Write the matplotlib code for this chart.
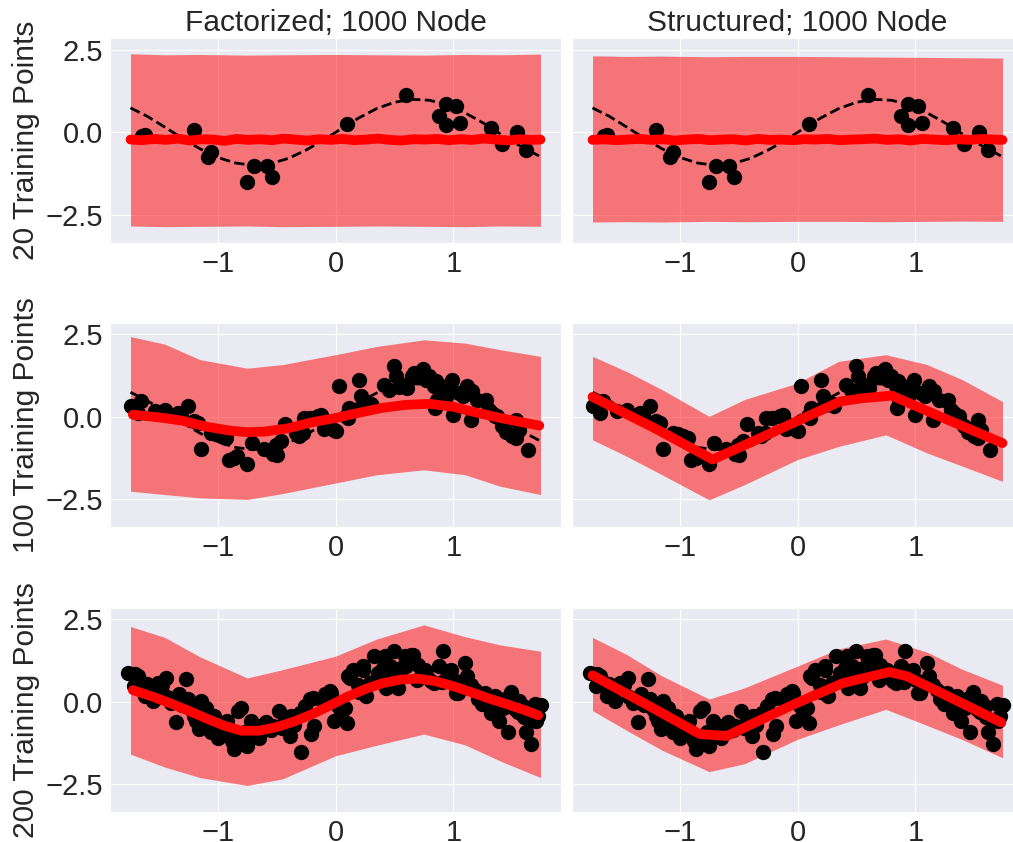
import numpy as np
import matplotlib.pyplot as plt
import seaborn as sns

sns.set_style("darkgrid")
plt.rcParams['font.family'] = ['Liberation Sans', 'DejaVu Sans']

# true function (dashed)
x_true = [-1.74, -1.6, -1.45, -1.3, -1.15, -1.0, -0.85, -0.7, -0.55, -0.4, -0.25, -0.1,
          0.05, 0.2, 0.35, 0.5, 0.65, 0.8, 0.95, 1.1, 1.25, 1.4, 1.55, 1.74]
y_true = [0.74, 0.49, 0.16, -0.18, -0.5, -0.76, -0.93, -1.0, -0.95, -0.79, -0.54, -0.23,
          0.11, 0.44, 0.72, 0.91, 1.0, 0.97, 0.83, 0.59, 0.29, -0.05, -0.38, -0.74]

# training points
x20 = [-1.62, -1.2, -1.085, -1.06, -0.755, -0.69, -0.58, -0.54, 0.10, 0.60,
       0.88, 0.94, 0.94, 1.02, 1.06, 1.32, 1.41, 1.54, 1.62, -1.64]
y20 = [-0.08, 0.07, -0.74, -0.61, -1.52, -1.01, -1.01, -1.37, 0.24, 1.13,
       0.50, 0.86, 0.22, 0.80, 0.29, 0.14, -0.36, 0.02, -0.53, -0.10]

x100 = [-1.74, -1.68, -1.65, -1.53, -1.34, -1.31, -1.25, -1.2, -1.17, -1.14, -1.06, -1.015,
        -0.97, -0.93, -0.90, -0.86, -0.84, -0.755, -0.71, -0.61, -0.53, -0.5, -0.506, -0.464,
        -0.427, -0.336, -0.31, -0.28, -0.266, -0.22, -0.15, -0.12, -0.1, -0.10, -0.01, 0.003,
        0.03, 0.09, 0.11, 0.116, 0.2, 0.215, 0.23, 0.314, 0.413, 0.45, 0.5, 0.51, 0.54, 0.61,
        0.65, 0.67, 0.695, 0.74, 0.766, 0.79, 0.837, 0.85, 0.845, 0.865, 0.91, 0.94, 0.98,
        0.99, 1.0, 1.05, 1.08, 1.12, 1.15, 1.16, 1.275, 1.30, 1.33, 1.35, 1.374, 1.416, 1.50,
        1.53, 1.53, 1.56, 1.63, -0.05, 0.6, 1.2, 1.45, -1.45, 0.3, 0.88, 1.1]
y100 = [0.31, 0.11, 0.47, 0.17, 0.11, 0.04, 0.31, -0.12, -0.19, -0.98, -0.5, -0.52,
        -0.6, -0.65, -1.30, -1.25, -1.18, -1.42, -0.81, -0.98, -1.12, -1.15, -0.85, -0.75,
        -0.22, -0.49, -0.6, -0.5, -0.04, -0.04, 0.01, 0.04, -0.19, -0.37, -0.39, -0.44,
        0.93, 0.01, -0.04, 0.26, 1.1, 0.62, 0.36, 0.33, 0.97, 0.82, 1.53, 1.22, 0.9, 0.87,
        1.24, 1.32, 1.27, 1.45, 1.12, 1.22, 0.92, 1.07, 0.26, 0.52, 0.82, 0.61, 0.82,
        1.1, 0.06, 0.72, 0.62, 0.92, -0.09, 0.77, 0.52, 0.21, 0.11, 0.01, 0.01, -0.29, -0.6,
        -0.65, -0.09, -0.39, -1.0, -0.3, 0.95, 0.5, -0.45, 0.2, 0.4, 0.95, 0.8]

x200 = [-1.76, -1.71, -1.68, -1.62, -1.58, -1.55, -1.51, -1.44, -1.40, -1.35, -1.33, -1.27,
        -1.25, -1.23, -1.20, -1.16, -1.14, -1.10, -1.09, -1.06, -1.03, -1.00, -0.96, -0.92,
        -0.86, -0.83, -0.82, -0.77, -0.75, -0.72, -0.67, -0.63, -0.59, -0.53, -0.48, -0.43,
        -0.39, -0.38, -0.29, -0.26, -0.22, -0.21, -0.18, -0.12, -0.09, -0.05, -0.01, 0.02,
        0.05, 0.10, 0.12, 0.15, 0.19, 0.23, 0.26, 0.29, 0.33, 0.36, 0.40, 0.42, 0.43, 0.46,
        0.49, 0.50, 0.53, 0.56, 0.59, 0.60, 0.66, 0.69, 0.73, 0.76, 0.81, 0.84, 0.88, 0.91,
        0.95, 1.01, 1.04, 1.10, 1.12, 1.15, 1.21, 1.24, 1.27, 1.32, 1.35, 1.37, 1.39, 1.44,
        1.46, 1.49, 1.52, 1.56, 1.59, 1.62, 1.65, 1.66, 1.69, 1.72,
        -1.7, -1.65, -1.6, -1.47, -1.43, -1.3, -1.18, -1.12, -1.05, -0.98, -0.9, -0.88,
        -0.8, -0.7, -0.65, -0.55, -0.45, -0.35, -0.3, -0.19, -0.04, 0.08, 0.11, 0.2, 0.23,
        0.32, 0.38, 0.48, 0.55, 0.64, 0.7, 0.78, 0.9, 0.98, 1.02, 1.08, 1.18, 1.3, 1.42,
        1.48, 1.55, 1.6, 1.7, 1.74]
y200 = [0.87, 0.47, 0.77, 0.17, 0.37, 0.02, 0.57, 0.72, -0.03, -0.63, 0.22, 0.69,
        0.07, -0.23, -0.43, -0.83, 0.02, -0.18, -0.58, -0.93, -0.43, -1.09, -0.68, -0.58,
        -1.44, -0.28, -1.14, -0.93, -1.34, -0.58, -0.73, -0.93, -0.63, -0.73, -0.28, -0.53,
        -1.04, -0.43, -1.52, -0.13, 0.07, -0.98, -0.73, 0.07, 0.22, 0.32, -0.58, -0.13,
        -0.33, -0.65, 0.72, 0.97, 0.52, 0.97, 0.17, 0.57, 1.40, 0.87, 1.02, 1.38, 0.42, 1.08,
        0.77, 1.55, 0.42, 1.02, 1.38, 1.08, 1.43, 0.67, 0.87, 0.97, 0.62, 0.57, 1.08, 1.53,
        0.92, 0.67, 0.27, 1.18, 0.77, 0.52, 0.07, -0.08, 0.27, -0.33, 0.17, -0.03, -0.58, 0.07,
        -0.93, 0.29, -0.23, 0.02, -0.13, -0.93, -0.58, -1.29, -0.08, -0.43,
        0.85, 0.6, 0.55, 0.5, 0.15, -0.1, -0.6, -0.75, -0.7, -0.85, -0.95, -1.2,
        -0.18, -1.0, -1.1, -0.85, -0.8, -0.7, -0.35, 0.12, 0.27, -0.2, 0.77, 0.3, 1.08,
        0.6, 0.7, 0.95, 0.75, 1.43, 1.1, 0.75, 0.6, 0.95, 0.27, 0.5, 0.35, 0.0, -0.2,
        0.05, -0.3, -0.45, -0.6, -0.1]

# predictive band (mean +/- 2 std), read at these x positions
x_band = [-1.74, -1.45, -1.15, -0.75, -0.45, 0.0, 0.35, 0.75, 1.1, 1.4, 1.74]
fac20_hi = [2.38, 2.35, 2.36, 2.34, 2.35, 2.36, 2.35, 2.34, 2.36, 2.35, 2.37]
fac20_lo = [-2.84, -2.86, -2.85, -2.84, -2.86, -2.85, -2.84, -2.85, -2.86, -2.84, -2.85]
str20_hi = [2.32, 2.30, 2.31, 2.29, 2.30, 2.30, 2.29, 2.28, 2.27, 2.26, 2.25]
str20_lo = [-2.72, -2.71, -2.72, -2.70, -2.71, -2.70, -2.70, -2.71, -2.70, -2.69, -2.70]
fac100_hi = [2.43, 2.20, 1.73, 1.47, 1.58, 1.88, 2.13, 2.33, 2.23, 2.03, 1.83]
fac100_lo = [-2.26, -2.36, -2.46, -2.51, -2.33, -2.01, -1.76, -1.61, -1.76, -2.11, -2.36]
str100_hi = [1.83, 1.37, 0.82, 0.01, 0.52, 1.02, 1.68, 1.88, 1.58, 1.12, 0.46]
str100_lo = [-0.70, -1.20, -1.76, -2.52, -2.06, -1.30, -0.90, -0.55, -1.10, -1.50, -1.96]
fac200_hi = [2.28, 1.95, 1.36, 0.72, 0.97, 1.38, 1.90, 2.33, 1.97, 1.72, 1.53]
fac200_lo = [-1.59, -1.98, -2.30, -2.54, -2.34, -1.64, -1.32, -0.98, -1.31, -1.80, -2.30]
str200_hi = [1.95, 1.43, 0.78, 0.08, 0.42, 1.08, 1.60, 1.90, 1.50, 0.98, 0.50]
str200_lo = [-0.27, -0.87, -1.47, -2.12, -1.88, -1.14, -0.70, -0.23, -0.72, -1.15, -1.70]

# predictive mean
xm20 = [-1.74, -1.64, -1.54, -1.44, -1.34, -1.24, -1.14, -1.04, -0.94, -0.84, -0.74, -0.64,
        -0.54, -0.44, -0.34, -0.24, -0.14, -0.04, 0.06, 0.16, 0.26, 0.36, 0.46, 0.56,
        0.66, 0.76, 0.86, 0.96, 1.06, 1.16, 1.26, 1.36, 1.46, 1.56, 1.66, 1.74]
fac20_mean = [-0.22, -0.24, -0.20, -0.23, -0.19, -0.25, -0.21, -0.22, -0.26, -0.20, -0.23, -0.21,
              -0.24, -0.19, -0.22, -0.25, -0.21, -0.23, -0.20, -0.24, -0.22, -0.19, -0.23, -0.25,
              -0.21, -0.22, -0.20, -0.24, -0.21, -0.23, -0.19, -0.22, -0.25, -0.21, -0.23, -0.22]
str20_mean = [-0.23, -0.21, -0.24, -0.22, -0.20, -0.23, -0.21, -0.25, -0.22, -0.20, -0.24, -0.22,
              -0.21, -0.25, -0.20, -0.23, -0.22, -0.24, -0.21, -0.22, -0.20, -0.24, -0.22, -0.21,
              -0.19, -0.23, -0.21, -0.25, -0.20, -0.22, -0.24, -0.21, -0.23, -0.20, -0.22, -0.23]
xm_fac100 = [-1.72, -1.5, -1.3, -1.1, -0.9, -0.75, -0.6, -0.4, -0.2, 0.0, 0.2, 0.4, 0.6,
             0.8, 1.0, 1.2, 1.4, 1.6, 1.73]
fac100_mean = [0.06, -0.02, -0.12, -0.30, -0.42, -0.47, -0.45, -0.35, -0.17, -0.04, 0.12, 0.27,
               0.36, 0.39, 0.30, 0.12, -0.04, -0.18, -0.27]
xm_str100 = [-1.74, -1.2, -0.72, -0.3, 0.0, 0.36, 0.55, 0.8, 1.2, 1.74]
str100_mean = [0.60, -0.37, -1.30, -0.62, -0.13, 0.46, 0.56, 0.64, 0.02, -0.80]
xm_fac200 = [-1.72, -1.55, -1.4, -1.25, -1.1, -0.95, -0.8, -0.65, -0.5, -0.35, -0.2, -0.05,
             0.1, 0.25, 0.4, 0.55, 0.7, 0.85, 1.0, 1.15, 1.3, 1.45, 1.6, 1.72]
fac200_mean = [0.35, 0.15, -0.05, -0.27, -0.50, -0.72, -0.88, -0.88, -0.77, -0.60, -0.38, -0.12,
               0.15, 0.38, 0.56, 0.67, 0.70, 0.62, 0.47, 0.29, 0.10, -0.07, -0.25, -0.41]
xm_str200 = [-1.74, -1.3, -0.83, -0.6, -0.3, 0.0, 0.39, 0.78, 0.93, 1.73]
str200_mean = [0.80, -0.05, -0.98, -1.04, -0.53, -0.03, 0.57, 0.90, 0.77, -0.63]

row_labels = ["20 Training Points", "100 Training Points", "200 Training Points"]
col_titles = ["Factorized; 1000 Node", "Structured; 1000 Node"]

panels = [
    [(x20, y20, fac20_lo, fac20_hi, xm20, fac20_mean), (x20, y20, str20_lo, str20_hi, xm20, str20_mean)],
    [(x100, y100, fac100_lo, fac100_hi, xm_fac100, fac100_mean), (x100, y100, str100_lo, str100_hi, xm_str100, str100_mean)],
    [(x200, y200, fac200_lo, fac200_hi, xm_fac200, fac200_mean), (x200, y200, str200_lo, str200_hi, xm_str200, str200_mean)],
]

fig = plt.figure(figsize=(10.13, 8.42), dpi=100)
W, H = 1013.0, 842.0
col_left = [110, 572]
row_top = [38.3, 322.7, 607.7]
ax_w, ax_h = 451, 204.5

first = None
for r in range(3):
    for c in range(2):
        rect = [col_left[c] / W, 1 - (row_top[r] + ax_h) / H, ax_w / W, ax_h / H]
        ax = fig.add_axes(rect, sharey=first)
        if first is None:
            first = ax
        xs, ys, lo, hi, xm, mean = panels[r][c]
        ax.fill_between(x_band, lo, hi, color='red', alpha=0.5, lw=0)
        ax.plot(x_true, y_true, 'k--', lw=2)
        ax.scatter(xs, ys, s=100, color='black', zorder=3)
        ax.plot(xm, mean, color='red', lw=7, solid_capstyle='round',
                solid_joinstyle='round', zorder=4)
        ax.set_xlim(-1.914, 1.914)
        ax.set_ylim(-3.35, 2.85)
        ax.set_xticks([-1, 0, 1])
        ax.set_yticks([-2.5, 0.0, 2.5])
        ax.tick_params(labelsize=21, pad=1.5)
        if c == 0:
            ax.set_ylabel(row_labels[r], fontsize=21.5, labelpad=4)
        else:
            ax.tick_params(labelleft=False)
        if r == 0:
            ax.set_title(col_titles[c], fontsize=21.5, pad=5)

fig.savefig('out.png', dpi=100)
